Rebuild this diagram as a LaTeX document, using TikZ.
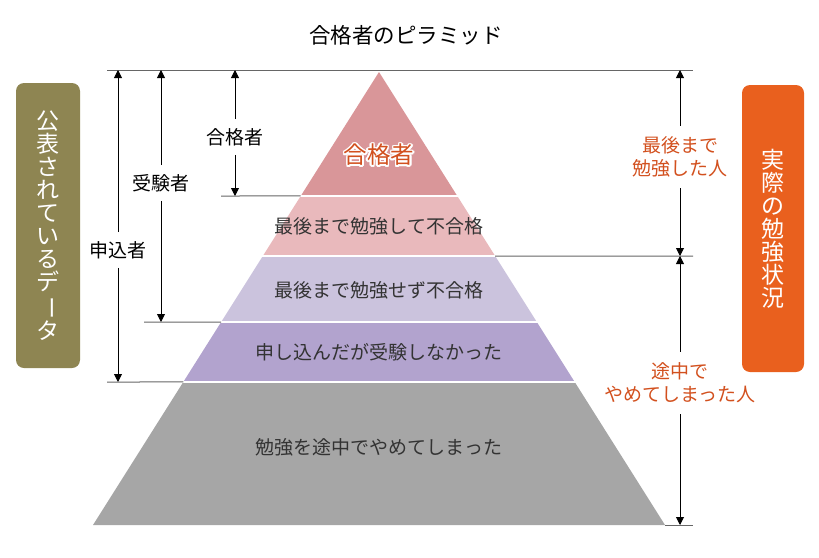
\documentclass[tikz,border=0pt]{standalone}
\usepackage{fontspec}
\setmainfont{Noto Sans CJK JP}
\usetikzlibrary{arrows.meta, calc}

\definecolor{tierPass}{RGB}{217,150,153}
\definecolor{tierStudied}{RGB}{233,185,188}
\definecolor{tierLazy}{RGB}{203,195,221}
\definecolor{tierAbsent}{RGB}{178,163,206}
\definecolor{tierQuit}{RGB}{166,166,166}
\definecolor{boxOlive}{RGB}{142,133,82}
\definecolor{boxOrange}{RGB}{233,96,30}
\definecolor{noteRed}{RGB}{210,80,30}

\begin{document}
\begin{tikzpicture}[
    x=1pt, y=-1pt,
    tiertext/.style={font=\fontsize{19}{23}\selectfont, text=black!80},
    passtext/.style={font=\fontsize{23.5}{23.5}\selectfont},
    guide/.style={draw=black!60, line width=1pt},
    gap/.style={draw=white, line width=2pt},
    dimarrow/.style={-{Triangle[width=8pt,length=8pt]}, line width=0.9pt, black},
    dimlabel/.style={font=\fontsize{19}{23}\selectfont, align=center, inner xsep=2pt, inner ysep=9pt},
    sidebox/.style={rounded corners=8pt, text=white, font=\fontsize{23}{23}\selectfont, align=center, inner sep=0pt}
]
\useasboundingbox (0,0) rectangle (819,557);

% Title
\node[font=\fontsize{21.5}{26}\selectfont] (title) at (406,35) {合格者のピラミッド};

% Pyramid corners and tier boundaries
\coordinate (apex) at (379,72);
\coordinate (bl) at (93,525);
\coordinate (br) at (665,525);
\foreach \t/\n in {0.2737/1, 0.4062/2, 0.5519/3, 0.6843/4} {
  \coordinate (l\n) at ($(apex)!\t!(bl)$);
  \coordinate (r\n) at ($(apex)!\t!(br)$);
}

\fill[tierPass] (apex) -- (r1) -- (l1) -- cycle;
\fill[tierStudied] (l1) -- (r1) -- (r2) -- (l2) -- cycle;
\fill[tierLazy] (l2) -- (r2) -- (r3) -- (l3) -- cycle;
\fill[tierAbsent] (l3) -- (r3) -- (r4) -- (l4) -- cycle;
\fill[tierQuit] (l4) -- (r4) -- (br) -- (bl) -- cycle;
\foreach \n in {1,...,4}
  \draw[gap] ($(l\n)+(-2,0)$) -- ($(r\n)+(2,0)$);

% Tier texts (white outline behind the top label)
\foreach \a in {0,30,...,330}
  \node[passtext, text=white] (halo\a) at ($(379,155)+(\a:1.7pt)$) {合格者};
\node[passtext, text=noteRed] (pass) at (379,155) {合格者};
\node[tiertext] (studied) at (379,226) {最後まで勉強して不合格};
\node[tiertext] (lazy) at (379,290) {最後まで勉強せず不合格};
\node[tiertext] (absent) at (379,352) {申し込んだが受験しなかった};
\node[tiertext] (quit) at (379,447) {勉強を途中でやめてしまった};

% Guide lines
\coordinate (topL) at (107,70);
\coordinate (topR) at (693,70);
\coordinate (passL) at (221,196);
\coordinate (examL) at (144,322);
\coordinate (appL) at (107,382);
\coordinate (midR) at (693,256);
\coordinate (botR) at (693,525);
\draw[guide] (topL) -- (topR);
\draw[guide] (passL) -- (l1);
\draw[guide] (examL) -- (l3);
\draw[guide] (appL) -- (l4);
\draw[guide] (r2) -- (midR);
\draw[guide] (br) -- (botR);

% Left dimensions
\coordinate (appTop) at (118,70);
\coordinate (appBot) at (118,382);
\coordinate (examTop) at (161,70);
\coordinate (examBot) at (161,322);
\coordinate (passTop) at (235,70);
\coordinate (passBot) at (235,196);
\node[dimlabel] (applicants) at (118,250) {申込者};
\node[dimlabel] (examinees) at (161,183) {受験者};
\node[dimlabel] (passers) at (235,137) {合格者};
\draw[dimarrow] (applicants) -- (appTop);
\draw[dimarrow] (applicants) -- (appBot);
\draw[dimarrow] (examinees) -- (examTop);
\draw[dimarrow] (examinees) -- (examBot);
\draw[dimarrow] (passers) -- (passTop);
\draw[dimarrow] (passers) -- (passBot);

% Right dimensions
\coordinate (fullTop) at (680,70);
\coordinate (fullBot) at (680,256);
\coordinate (quitBot) at (680,525);
\node[dimlabel, text=noteRed, inner ysep=10.5pt] (fullstudy) at (680,157) {最後まで\\勉強した人};
\node[dimlabel, text=noteRed, inner ysep=11pt] (gaveup) at (680,383) {途中で\\やめてしまった人};
\draw[dimarrow] (fullstudy) -- (fullTop);
\draw[dimarrow] (fullstudy) -- (fullBot);
\draw[dimarrow] (gaveup) -- (fullBot);
\draw[dimarrow] (gaveup) -- (quitBot);

% Side boxes
\node[sidebox, fill=boxOlive, minimum width=64pt, minimum height=285pt] (published) at (48,225.5)
  {公\\表\\さ\\れ\\て\\い\\る\\デ\\\rotatebox[origin=c]{-90}{ー}\\タ};
\node[sidebox, fill=boxOrange, minimum width=62pt, minimum height=287pt] (actual) at (773,228.5)
  {実\\際\\の\\勉\\強\\状\\況};

\end{tikzpicture}
\end{document}
